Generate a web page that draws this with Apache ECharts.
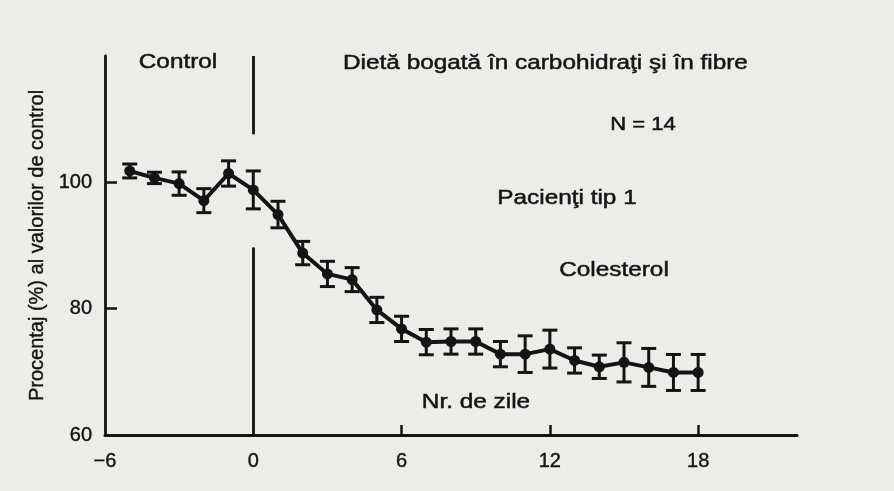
<!DOCTYPE html>
<html>
<head>
<meta charset="utf-8">
<script src="https://cdn.jsdelivr.net/npm/echarts@6/dist/echarts.min.js"></script>
<style>
  html, body { margin: 0; padding: 0; background: #edece9; }
  #chart { width: 894px; height: 491px; }
</style>
</head>
<body>
<div id="chart"></div>
<script>
// day number, mean cholesterol (% of control) and half height of error bar
const days = [-5, -4, -3, -2, -1, 0, 1, 2, 3, 4, 5, 6, 7, 8, 9, 10, 11, 12, 13, 14, 15, 16, 17, 18];
const cholesterol = [101.8, 100.7, 99.8, 97.1, 101.4, 98.8, 94.9, 88.8, 85.5, 84.6, 79.8, 76.8,
  74.7, 74.8, 74.8, 72.8, 72.8, 73.6, 71.8, 70.8, 71.5, 70.7, 69.9, 69.9];
const errors = [1.1, 0.9, 1.85, 1.9, 2.0, 3.0, 2.1, 1.85, 2.0, 1.9, 2.0, 2.0,
  2.0, 2.0, 2.0, 2.0, 2.9, 3.0, 2.0, 1.85, 3.1, 3.0, 2.85, 2.85];

const xTickLabels = [-6, 0, 6, 12, 18];
const xTickMarks = [6, 12, 18];
const yTickLabels = [60, 80, 100];
const yTickMarks = [80, 100];
// the dividing line at day 0 is broken where the curve passes
const dividerTop = [120, 107.6];
const dividerBottom = [89.7, 60];

const ink = "#141414";
const font = "Liberation Sans, Arial, sans-serif";

const chart = echarts.init(document.getElementById("chart"));

const linePoints = days.map((d, i) => [d, cholesterol[i]]);
const barPoints = days.map((d, i) => [d, cholesterol[i] - errors[i], cholesterol[i] + errors[i]]);

function renderErrorBar(params, api) {
  const x = api.value(0);
  const low = api.coord([x, api.value(1)]);
  const high = api.coord([x, api.value(2)]);
  const half = 7.5;
  const style = { stroke: ink, lineWidth: 3 };
  return {
    type: "group",
    children: [
      { type: "line", shape: { x1: low[0], y1: low[1], x2: high[0], y2: high[1] }, style: style },
      { type: "line", shape: { x1: low[0] - half, y1: low[1], x2: low[0] + half, y2: low[1] }, style: style },
      { type: "line", shape: { x1: high[0] - half, y1: high[1], x2: high[0] + half, y2: high[1] }, style: style },
    ],
  };
}

// scanned lettering is a bit wider and heavier than plain Arial
function note(text, x, y, size, align) {
  return {
    type: "text",
    x: x,
    y: y,
    scaleX: 1.16,
    style: {
      text: text,
      font: size + "px " + font,
      fill: ink,
      stroke: ink,
      lineWidth: 0.5,
      textAlign: align || "center",
      textVerticalAlign: "middle",
    },
  };
}

const labelStyle = {
  fontSize: 20,
  fontFamily: font,
  color: ink,
  textBorderColor: ink,
  textBorderWidth: 0.4,
};

chart.setOption({
  backgroundColor: "#edece9",
  animation: false,
  grid: { left: 105, right: 97, top: 56, bottom: 56 },
  xAxis: {
    type: "value",
    min: -6,
    max: 22,
    interval: 6,
    splitLine: { show: false },
    axisLine: { onZero: false, lineStyle: { color: ink, width: 3 } },
    axisTick: {
      inside: true,
      length: 10,
      customValues: xTickMarks,
      lineStyle: { color: ink, width: 2.5 },
    },
    axisLabel: Object.assign({}, labelStyle, {
      customValues: xTickLabels,
      margin: 16,
      formatter: (v) => (v < 0 ? "\u2212" + Math.abs(v) : String(v)),
    }),
  },
  yAxis: {
    type: "value",
    min: 60,
    max: 120,
    interval: 20,
    name: "Procentaj (%) al valorilor de control",
    nameLocation: "middle",
    nameRotate: 90,
    nameGap: 43,
    nameTextStyle: labelStyle,
    splitLine: { show: false },
    axisLine: { show: true, onZero: false, lineStyle: { color: ink, width: 2.8 } },
    axisTick: {
      show: true,
      inside: true,
      length: 12,
      customValues: yTickMarks,
      lineStyle: { color: ink, width: 2.5 },
    },
    axisLabel: Object.assign({}, labelStyle, {
      customValues: yTickLabels,
      margin: 13,
    }),
  },
  graphic: [
    note("Control", 178, 62, 21),
    note("Dietă bogată în carbohidraţi şi în fibre", 343, 63, 21, "left"),
    note("N = 14", 643, 125, 19),
    note("Pacienţi tip 1", 567, 198, 21),
    note("Colesterol", 614, 270, 21),
    note("Nr. de zile", 476, 402, 21),
  ],
  series: [
    {
      type: "custom",
      renderItem: renderErrorBar,
      data: barPoints,
      encode: { x: 0, y: [1, 2] },
      silent: true,
      z: 3,
    },
    {
      type: "line",
      data: linePoints,
      symbol: "circle",
      symbolSize: 11,
      itemStyle: { color: ink },
      lineStyle: { color: ink, width: 4 },
      silent: true,
      z: 4,
      markLine: {
        silent: true,
        symbol: "none",
        label: { show: false },
        lineStyle: { color: ink, width: 2.8, type: "solid" },
        data: [
          [{ coord: [0, dividerTop[0]] }, { coord: [0, dividerTop[1]] }],
          [{ coord: [0, dividerBottom[0]] }, { coord: [0, dividerBottom[1]] }],
        ],
      },
    },
  ],
});

window.addEventListener("resize", () => {
  chart && chart.resize();
});
</script>
</body>
</html>
